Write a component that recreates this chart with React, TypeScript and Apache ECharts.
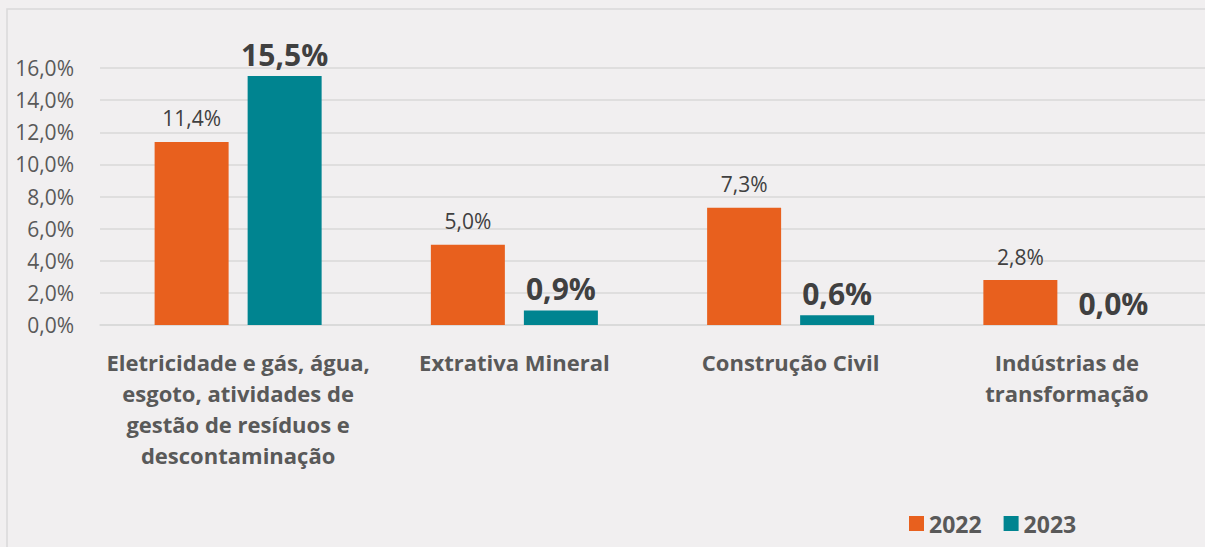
import React, { useEffect, useRef } from "react";
import * as echarts from "echarts";

const categories = [
  "Eletricidade e gás, água,\nesgoto, atividades de\ngestão de resíduos e\ndescontaminação",
  "Extrativa Mineral",
  "Construção Civil",
  "Indústrias de\ntransformação",
];
const values2022 = [11.4, 5.0, 7.3, 2.8];
const values2023 = [15.5, 0.9, 0.6, 0.0];
const seriesNames = ["2022", "2023"];

const FONT = "'Open Sans', 'Noto Sans', sans-serif";
const fmt = (v: number) => v.toFixed(1).replace(".", ",") + "%";

export default function App() {
  const ref = useRef<HTMLDivElement>(null);
  useEffect(() => {
    if (!ref.current) return;
    const chart = echarts.init(ref.current, null, { renderer: "svg" });
    chart.setOption({
      animation: false,
      backgroundColor: "#F1EFF0",
      textStyle: { fontFamily: FONT },
      graphic: [
        {
          type: "rect",
          shape: { x: 7, y: 9, width: 1300, height: 700 },
          style: { fill: "none", stroke: "#D9D9D9", lineWidth: 1.5 },
          silent: true,
        },
      ],
      grid: { left: 100, top: 68, width: 1108, height: 257 },
      legend: {
        data: seriesNames,
        left: 904,
        top: 507,
        itemWidth: 15,
        itemHeight: 15,
        itemGap: 22,
        icon: "rect",
        textStyle: { fontFamily: FONT, fontSize: 23, fontWeight: "bold", color: "#595959" },
      },
      xAxis: {
        type: "category",
        data: categories,
        axisLine: { lineStyle: { color: "#D9D9D9", width: 1.5 } },
        axisTick: { show: false },
        axisLabel: {
          interval: 0,
          margin: 21,
          fontFamily: FONT,
          fontSize: 22,
          fontWeight: "bold",
          color: "#595959",
          lineHeight: 31,
        },
      },
      yAxis: {
        type: "value",
        min: 0,
        max: 16,
        interval: 2,
        axisLine: { show: false },
        axisTick: { show: false },
        splitLine: { lineStyle: { color: "#D9D9D9", width: 1.5 } },
        axisLabel: {
          margin: 26,
          fontFamily: FONT,
          fontSize: 21,
          color: "#595959",
          formatter: (v: number) => fmt(v),
        },
      },
      series: [
        {
          name: seriesNames[0],
          type: "bar",
          data: values2022,
          barWidth: 74,
          barGap: "25.7%",
          itemStyle: { color: "#E8601E" },
          label: {
            show: true,
            position: "top",
            distance: 13,
            fontFamily: FONT,
            fontSize: 21,
            color: "#404040",
            formatter: (p: any) => fmt(p.value),
          },
        },
        {
          name: seriesNames[1],
          type: "bar",
          data: values2023,
          barWidth: 74,
          itemStyle: { color: "#008490" },
          label: {
            show: true,
            position: "top",
            distance: 7,
            fontFamily: FONT,
            fontSize: 30,
            fontWeight: "bold",
            color: "#404040",
            formatter: (p: any) => fmt(p.value),
          },
        },
      ],
    });
    return () => chart.dispose();
  }, []);
  return (
    <div
      ref={ref}
      style={{ position: "fixed", left: 0, top: 0, width: 1205, height: 547 }}
    />
  );
}
